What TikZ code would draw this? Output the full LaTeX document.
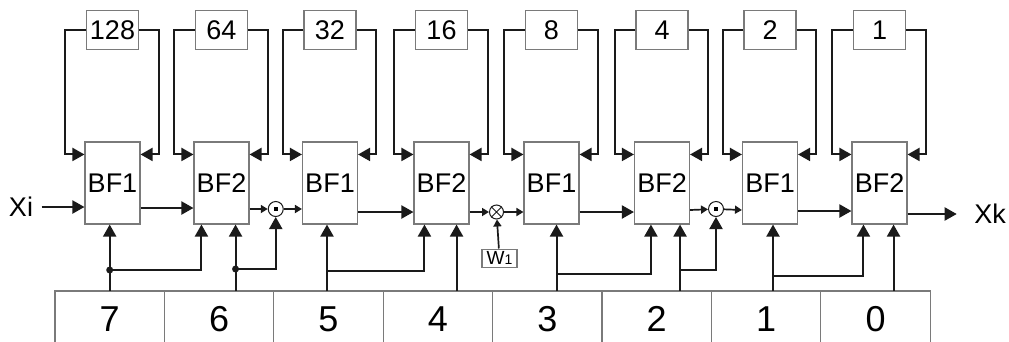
\documentclass[tikz,border=0pt]{standalone}
\usepackage{fontspec}
\setmainfont{Liberation Sans}
\usetikzlibrary{arrows.meta,positioning,calc}
\definecolor{fftline}{HTML}{1A1A1A}
\definecolor{fftbox}{HTML}{7A7A7A}

\begin{document}
\begin{tikzpicture}[
  x=1pt, y=-1pt,
  bf/.style={draw=fftbox, line width=1.1pt, minimum width=55pt, minimum height=82pt,
             inner sep=0pt, font=\fontsize{27}{28}\selectfont},
  dly/.style={draw=fftbox, line width=1.1pt, minimum width=52pt, minimum height=39pt,
              inner sep=0pt, font=\fontsize{27}{28}\selectfont},
  reg/.style={draw=fftbox, line width=1.1pt, minimum width=109.4pt, minimum height=56pt,
              inner sep=0pt, outer sep=0pt, font=\fontsize{36}{38}\selectfont},
  mul/.style={circle, draw=fftline, line width=1pt, minimum size=15pt, inner sep=0pt},
  wbox/.style={draw=fftbox, line width=1.1pt, minimum width=35pt, minimum height=18pt,
               inner sep=0pt, font=\fontsize{19}{20}\selectfont},
  ar/.style={-{Triangle[length=12pt,width=13pt]}, fftline, line width=2pt},
  arsm/.style={-{Triangle[length=7pt,width=8pt]}, fftline, line width=1.7pt},
  jdot/.style={fill=fftline},
]
\useasboundingbox (0,0) rectangle (1009,341);
\clip (0,0) rectangle (1009,341);

% butterflies
\node[bf] (b1) at (112.5,183) {BF1};
\node[bf] (b2) at (221.5,183) {BF2};
\node[bf] (b3) at (330,183) {BF1};
\node[bf] (b4) at (441.5,183) {BF2};
\node[bf] (b5) at (551.5,183) {BF1};
\node[bf] (b6) at (662,183) {BF2};
\node[bf] (b7) at (770,183) {BF1};
\node[bf] (b8) at (879.5,183) {BF2};

% feedback delays
\node[dly, above=91pt of b1] (d1) {128};
\node[dly, above=91pt of b2] (d2) {64};
\node[dly, above=91pt of b3] (d3) {32};
\node[dly, above=91pt of b4] (d4) {16};
\node[dly, above=91pt of b5] (d5) {8};
\node[dly, above=91pt of b6] (d6) {4};
\node[dly, above=91pt of b7] (d7) {2};
\node[dly, above=91pt of b8] (d8) {1};

% counter bits
\node[reg] (r7) at (109.7,319) {7};
\node[reg, right=0pt of r7] (r6) {6};
\node[reg, right=0pt of r6] (r5) {5};
\node[reg, right=0pt of r5] (r4) {4};
\node[reg, right=0pt of r4] (r3) {3};
\node[reg, right=0pt of r3] (r2) {2};
\node[reg, right=0pt of r2] (r1) {1};
\node[reg, right=0pt of r1] (r0) {0};

% multipliers
\node[mul] (c1) at ($(b2.east)!0.5!(b3.west)+(0,26)$) {\rule{3.5pt}{3.5pt}};
\node[mul, minimum size=14pt] (m1) at ($(b4.east)!0.5!(b5.west)+(0,29)$) {};
\draw[fftline, line width=0.8pt] (m1.north west) -- (m1.south east)
                                 (m1.north east) -- (m1.south west);
\node[mul] (c2) at ($(b6.east)!0.5!(b7.west)+(0,26)$) {\rule{3.5pt}{3.5pt}};
\node[wbox, below=29pt of m1, xshift=3pt] (w1) {W{\fontsize{14}{14}\selectfont 1}};

\node[font=\fontsize{27}{28}\selectfont] (xi) at (21,207) {Xi};
\node[font=\fontsize{27}{28}\selectfont] (xk) at (990,214) {Xk};

% delay loops
\draw[ar] (d1.west) -| ([xshift=-19pt,yshift=-13pt]b1.north west) -- ([yshift=-13pt]b1.north west);
\draw[ar] (d1.east) -| ([xshift=18pt,yshift=-13pt]b1.north east) -- ([yshift=-13pt]b1.north east);
\draw[ar] (d2.west) -| ([xshift=-19pt,yshift=-13pt]b2.north west) -- ([yshift=-13pt]b2.north west);
\draw[ar] (d2.east) -| ([xshift=18pt,yshift=-13pt]b2.north east) -- ([yshift=-13pt]b2.north east);
\draw[ar] (d3.west) -| ([xshift=-19pt,yshift=-13pt]b3.north west) -- ([yshift=-13pt]b3.north west);
\draw[ar] (d3.east) -| ([xshift=18pt,yshift=-13pt]b3.north east) -- ([yshift=-13pt]b3.north east);
\draw[ar] (d4.west) -| ([xshift=-19pt,yshift=-13pt]b4.north west) -- ([yshift=-13pt]b4.north west);
\draw[ar] (d4.east) -| ([xshift=18pt,yshift=-13pt]b4.north east) -- ([yshift=-13pt]b4.north east);
\draw[ar] (d5.west) -| ([xshift=-19pt,yshift=-13pt]b5.north west) -- ([yshift=-13pt]b5.north west);
\draw[ar] (d5.east) -| ([xshift=18pt,yshift=-13pt]b5.north east) -- ([yshift=-13pt]b5.north east);
\draw[ar] (d6.west) -| ([xshift=-19pt,yshift=-13pt]b6.north west) -- ([yshift=-13pt]b6.north west);
\draw[ar] (d6.east) -| ([xshift=18pt,yshift=-13pt]b6.north east) -- ([yshift=-13pt]b6.north east);
\draw[ar] (d7.west) -| ([xshift=-19pt,yshift=-13pt]b7.north west) -- ([yshift=-13pt]b7.north west);
\draw[ar] (d7.east) -| ([xshift=18pt,yshift=-13pt]b7.north east) -- ([yshift=-13pt]b7.north east);
\draw[ar] (d8.west) -| ([xshift=-19pt,yshift=-13pt]b8.north west) -- ([yshift=-13pt]b8.north west);
\draw[ar] (d8.east) -| ([xshift=18pt,yshift=-13pt]b8.north east) -- ([yshift=-13pt]b8.north east);

% data path
\draw[ar, shorten <=5pt] (xi) -- (xi -| b1.west);
\draw[ar] ([yshift=-25pt]b1.east) -- ([yshift=-25pt]b2.west);
\draw[arsm] ([yshift=-26pt]b2.east) -- (c1);
\draw[arsm] (c1) -- ([yshift=-26pt]b3.west);
\draw[ar] ([yshift=-29pt]b3.east) -- ([yshift=-29pt]b4.west);
\draw[arsm] ([yshift=-29pt]b4.east) -- (m1);
\draw[arsm] (m1) -- ([yshift=-29pt]b5.west);
\draw[ar] ([yshift=-29pt]b5.east) -- ([yshift=-29pt]b6.west);
\draw[arsm] ([yshift=-27pt]b6.east) -- (c2);
\draw[arsm] (c2) -- ([yshift=-27pt]b7.west);
\draw[ar] ([yshift=-28pt]b7.east) -- ([yshift=-28pt]b8.west);
\draw[ar, shorten >=14pt] ([yshift=-31pt]b8.east) -- (xk);
\draw[arsm] (w1) -- (m1);

% control bits
\coordinate (p1) at (b1.south -| r7.north);
\coordinate (p2) at ([xshift=-14pt]b2.south east);
\coordinate (p3) at ([xshift=-3pt]b3.south);
\coordinate (p4) at ([xshift=-13pt]b4.south east);
\coordinate (p5) at ([xshift=5pt]b5.south);
\coordinate (p6) at ([xshift=-10pt]b6.south east);
\coordinate (p7) at ([xshift=3pt]b7.south);
\coordinate (p8) at ([xshift=-14pt]b8.south east);
\coordinate (j1) at ($(p1 |- r7.north)+(0,-21)$);
\coordinate (j2) at ($(p2 |- r6.north)+(0,-22)$);
\coordinate (j3) at ($(p3 |- r5.north)+(0,-20)$);
\coordinate (j5) at ($(p5 |- r3.north)+(0,-17)$);
\coordinate (j6) at ($(p6 |- r2.north)+(0,-21)$);
\coordinate (j7) at ($(p7 |- r1.north)+(0,-15)$);

\draw[ar] (p1 |- r7.north) -- (p1);
\draw[ar] (p2 |- r6.north) -- (p2);
\draw[ar] (p3 |- r5.north) -- (p3);
\draw[ar] (p4 |- r4.north) -- (p4);
\draw[ar] (p5 |- r3.north) -- (p5);
\draw[ar] (p6 |- r2.north) -- (p6);
\draw[ar] (p7 |- r1.north) -- (p7);
\draw[ar] (p8 |- r0.north) -- (p8);

\draw[ar] (j1) -| ([xshift=8pt]b2.south west);
\draw[ar] (j2) -| (c1.south);
\draw[ar] (j3) -| ([xshift=11pt]b4.south west);
\draw[ar] (j5) -| ([xshift=17pt]b6.south west);
\draw[ar] (j6) -| (c2.south);
\draw[ar] (j7) -| ([xshift=12pt]b8.south west);
\fill[jdot] (j1) circle (3.5pt);
\fill[jdot] (j2) circle (3.5pt);

\end{tikzpicture}
\end{document}
